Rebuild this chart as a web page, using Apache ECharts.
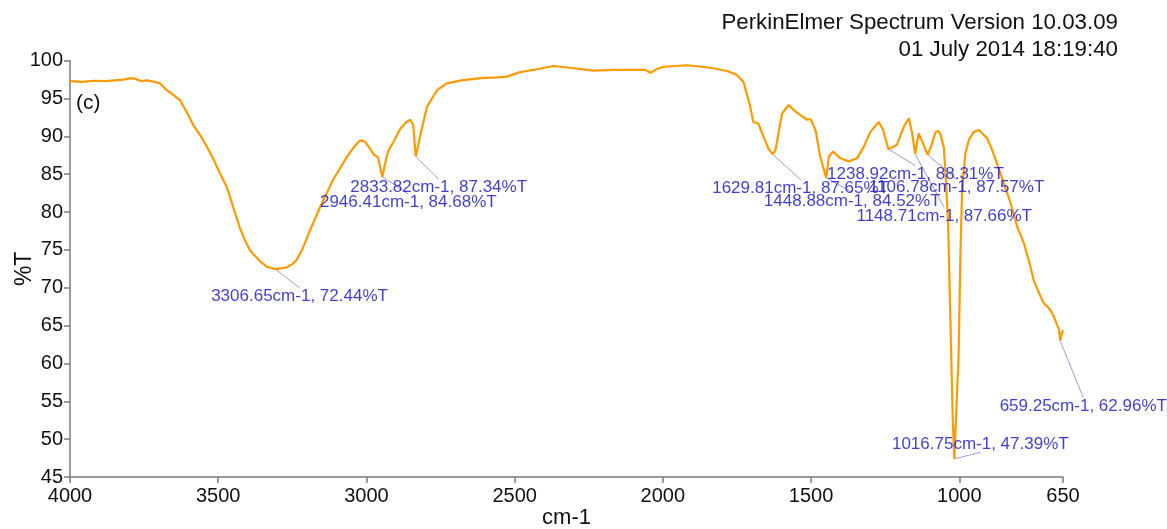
<!DOCTYPE html>
<html>
<head>
<meta charset="utf-8">
<script src="https://cdn.jsdelivr.net/npm/echarts@6/dist/echarts.min.js"></script>
<style>
html,body{margin:0;padding:0;background:#fff;}
#chart{width:1167px;height:529px;}
</style>
</head>
<body>
<div id="chart"></div>
<script>
// ---- data ----
var wavenumber = [4000,3960,3920,3880,3850,3820,3795,3780,3760,3740,3715,3696,3674,3652,3629,3605,3584,3560,3539,3515,3494,3470,3449,3426,3409,3392,3359,3336,3306.65,3285,3269,3250,3235,3214,3190,3156,3112,3066,3040,3021,3005,2990,2975,2962,2946.41,2935,2927,2910,2886,2865,2852,2842,2833.82,2819,2796,2762,2729,2680,2616,2560,2526,2481,2420,2370,2300,2235,2160,2100,2060,2042,2020,1998,1918,1870,1830,1780,1750,1728,1705,1695,1678,1661,1644,1629.81,1620,1598,1576,1553,1536,1513,1502,1485,1469,1448.88,1440,1426,1401,1373,1345,1322,1300,1272,1257,1238.92,1210,1187,1170,1159,1148.71,1137,1125,1106.78,1095,1080,1069,1063,1052,1047,1038,1030,1022,1016.75,1002,996,990,979,968,951,934,923,906,889,861,827,805,782,760,749,730,716,700,690,681,675,670,664,659.25,655,650];
var transmittance = [97.3,97.2,97.35,97.3,97.4,97.5,97.7,97.6,97.3,97.4,97.2,97.0,96.1,95.5,94.8,93.1,91.5,90.1,88.7,86.9,85.1,83.2,80.6,77.8,76.2,74.9,73.5,72.8,72.44,72.6,72.7,73.1,73.7,75.3,77.6,80.7,84.3,87.3,88.7,89.5,89.3,88.5,87.6,87.3,84.68,86.8,88.0,89.2,91.0,91.9,92.2,91.5,87.34,90.0,93.9,96.1,97.0,97.4,97.7,97.8,97.9,98.5,98.9,99.3,99.0,98.7,98.8,98.8,98.8,98.4,98.9,99.2,99.4,99.2,99.0,98.6,98.1,97.2,93.9,91.9,91.7,90.0,88.4,87.65,88.2,93.0,94.15,93.3,92.8,92.2,92.3,90.85,87.3,84.52,87.3,88.0,87.1,86.7,87.1,88.65,90.6,91.9,90.85,88.31,88.9,91.3,92.4,90.4,87.66,90.4,89.3,87.57,88.7,90.6,90.7,90.2,88.5,85.5,79.0,65.8,52.6,47.39,61.4,74.6,83.4,87.8,89.5,90.6,90.85,90.4,89.75,88.2,85.1,81.2,78.1,75.9,72.8,71.0,69.2,68.0,67.4,66.9,66.2,66.0,65.1,64.6,62.96,63.8,64.4];

var peakWavenumber = [3306.65,2946.41,2833.82,1629.81,1448.88,1238.92,1148.71,1106.78,1016.75,659.25];
var peakTransmittance = [72.44,84.68,87.34,87.65,84.52,88.31,87.66,87.57,47.39,62.96];

var xTicks = [4000,3500,3000,2500,2000,1500,1000,650];
var yMin = 45, yMax = 100, yStep = 5;

var headerLines = ['PerkinElmer Spectrum Version 10.03.09','01 July 2014 18:19:40'];
var panelLabel = '(c)';
var xName = 'cm-1', yName = '%T';

// ---- layout (label offsets in px, relative to the peak point) ----
var labelOffsets = [[24,27],[26,26],[23,31],[28,34],[26,23],[27,25],[29,62],[29,33],[26,-15],[23,65]];

var spectrum = wavenumber.map(function(w,i){return [w, transmittance[i]];});
var peaks = peakWavenumber.map(function(w,i){return [w, peakTransmittance[i]];});

var FONT = 'Liberation Sans, Arial, Helvetica, sans-serif';
var chart = echarts.init(document.getElementById('chart'), null, {renderer:'canvas'});
chart.setOption({
  animation:false,
  backgroundColor:'#ffffff',
  grid:{left:70,right:104,top:60.7,bottom:52,containLabel:false,outerBoundsMode:'none'},
  xAxis:{
    type:'value', min:650, max:4000, inverse:true,
    name:xName, nameLocation:'middle', nameGap:30, nameMoveOverlap:false,
    nameTextStyle:{fontSize:22,color:'#111',fontFamily:FONT},
    axisLine:{show:true,onZero:false,lineStyle:{color:'#7a7a7a',width:1.5}},
    axisTick:{show:true,length:6,customValues:xTicks,lineStyle:{color:'#7a7a7a',width:1.5}},
    axisLabel:{customValues:xTicks,fontSize:20,color:'#111',fontFamily:FONT,margin:9,
      formatter:function(v){return String(v);}},
    splitLine:{show:false}
  },
  yAxis:{
    type:'value', min:yMin, max:yMax, interval:yStep,
    name:yName, nameLocation:'middle', nameGap:34, nameRotate:90, nameMoveOverlap:false,
    nameTextStyle:{fontSize:23,color:'#111',fontFamily:FONT},
    axisLine:{show:true,onZero:false,lineStyle:{color:'#7a7a7a',width:1.5}},
    axisTick:{show:true,length:6,lineStyle:{color:'#7a7a7a',width:1.5}},
    axisLabel:{fontSize:20,color:'#111',fontFamily:FONT,margin:7},
    splitLine:{show:false}
  },
  graphic:[
    {type:'text',right:49,top:12,style:{text:headerLines[0],fontSize:22.3,fill:'#111',fontFamily:FONT,textAlign:'right'}},
    {type:'text',right:49,top:39,style:{text:headerLines[1],fontSize:22.3,fill:'#111',fontFamily:FONT,textAlign:'right'}},
    {type:'text',left:76,top:93,style:{text:panelLabel,fontSize:21,fill:'#111',fontFamily:FONT}}
  ],
  series:[
    {
      type:'line', data:spectrum, showSymbol:false, smooth:false,
      lineStyle:{color:'#FF9A00',width:2.2}, silent:true, z:2
    },
    {
      type:'scatter', data:peaks, symbolSize:2,
      itemStyle:{color:'rgba(0,0,0,0)'}, z:3, silent:true,
      label:{
        show:true, position:'inside', color:'#0e0ec8', fontSize:17, fontFamily:FONT,
        formatter:function(p){return p.value[0].toFixed(2)+'cm-1, '+p.value[1].toFixed(2)+'%T';}
      },
      labelLine:{show:true,smooth:false,lineStyle:{color:'#9c9cd8',width:1}},
      labelLayout:function(p){var o=labelOffsets[p.dataIndex];return {dx:o[0],dy:o[1],hideOverlap:false};}
    }
  ]
});
</script>
</body>
</html>
